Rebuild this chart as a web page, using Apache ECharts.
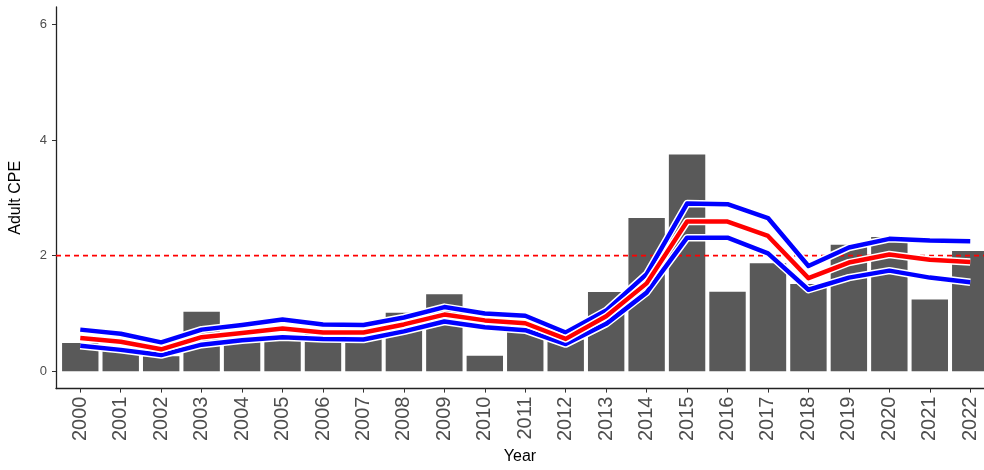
<!DOCTYPE html>
<html>
<head>
<meta charset="utf-8">
<script src="https://cdn.jsdelivr.net/npm/echarts@6/dist/echarts.min.js"></script>
<style>
html,body{margin:0;padding:0;background:#fff;}
#chart{width:984px;height:470px;}
</style>
</head>
<body>
<div id="chart"></div>
<script>
// 年份
var years=['2000','2001','2002','2003','2004','2005','2006','2007','2008','2009','2010','2011',
    '2012','2013','2014','2015','2016','2017','2018','2019','2020','2021','2022'];
// 柱子 Adult CPE
var cpe=[0.49,0.37,0.26,1.03,0.55,0.55,0.68,0.58,1.01,1.33,0.27,0.8,
    0.55,1.37,2.65,3.75,1.375,1.87,1.51,2.19,2.32,1.24,2.08];
// 中间红线
var fitMid=[0.575,0.51,0.38,0.59,0.66,0.74,0.67,0.67,0.81,0.98,0.88,0.83,
    0.56,0.95,1.52,2.59,2.59,2.34,1.61,1.88,2.02,1.93,1.89];
// 上下蓝线
var fitUp=[0.72,0.65,0.5,0.72,0.8,0.895,0.81,0.8,0.93,1.11,1.0,0.96,
    0.67,1.05,1.68,2.9,2.89,2.65,1.82,2.14,2.29,2.26,2.25];
var fitLow=[0.44,0.37,0.28,0.46,0.535,0.59,0.56,0.55,0.69,0.86,0.76,0.71,
    0.47,0.82,1.36,2.31,2.31,2.04,1.41,1.62,1.74,1.62,1.54];
var yTicks=[0,2,4,6];
var target=2;
var xMin=-0.6,xMax=22.34;

var idx=years.map(function(y,i){return i;});
function pairs(arr){
    return arr.map(function(v,i){return [i,v];});
}
function lineSeries(arr,color,width,z){
    return {
        type:'line',
        data:pairs(arr),
        symbol:'none',
        silent:true,
        z:z,
        lineStyle:{color:color,width:width,join:'round'}
    };
}

var myChart=echarts.init(document.getElementById('chart'));
var option={
    animation:false,
    grid:{left:56,right:0,top:7,bottom:78},
    xAxis:{
        type:'value',
        min:xMin,
        max:xMax,
        name:'Year',
        nameLocation:'middle',
        nameGap:58,
        nameTextStyle:{color:'#000',fontSize:16,fontFamily:'Liberation Sans'},
        axisLine:{show:true,onZero:false,lineStyle:{color:'#222',width:1.3}},
        axisTick:{show:true,length:4,customValues:idx,lineStyle:{color:'#333'}},
        axisLabel:{
            customValues:idx,
            rotate:90,
            margin:8,
            color:'#4d4d4d',
            fontSize:20,
            fontFamily:'Liberation Sans',
            formatter:function(v){return years[v];}
        },
        splitLine:{show:false}
    },
    yAxis:{
        type:'value',
        min:-0.3,
        max:6.3,
        name:'Adult CPE',
        nameLocation:'middle',
        nameGap:32,
        nameTextStyle:{color:'#000',fontSize:16,fontFamily:'Liberation Sans'},
        axisLine:{show:true,onZero:false,lineStyle:{color:'#222',width:1.3}},
        axisTick:{show:true,length:4,customValues:yTicks,lineStyle:{color:'#333'}},
        axisLabel:{customValues:yTicks,margin:9,color:'#4d4d4d',fontSize:13,fontFamily:'Liberation Sans'},
        splitLine:{show:false}
    },
    series:[
        {
            type:'bar',
            data:pairs(cpe),
            barWidth:36.4,
            itemStyle:{color:'#595959'},
            z:1
        },
        {
            // 2 的参考虚线
            type:'line',
            data:[[xMin,target],[xMax,target]],
            symbol:'none',
            silent:true,
            z:2,
            lineStyle:{color:'#ff0000',width:1.6,type:[5,4]}
        },
        lineSeries(fitUp,'#ffffff',7.5,3),
        lineSeries(fitUp,'#0000ff',4.5,4),
        lineSeries(fitLow,'#ffffff',7.5,3),
        lineSeries(fitLow,'#0000ff',4.5,4),
        lineSeries(fitMid,'#ffffff',7.5,5),
        lineSeries(fitMid,'#ff0000',4.5,6)
    ]
};
myChart.setOption(option);
</script>
</body>
</html>
